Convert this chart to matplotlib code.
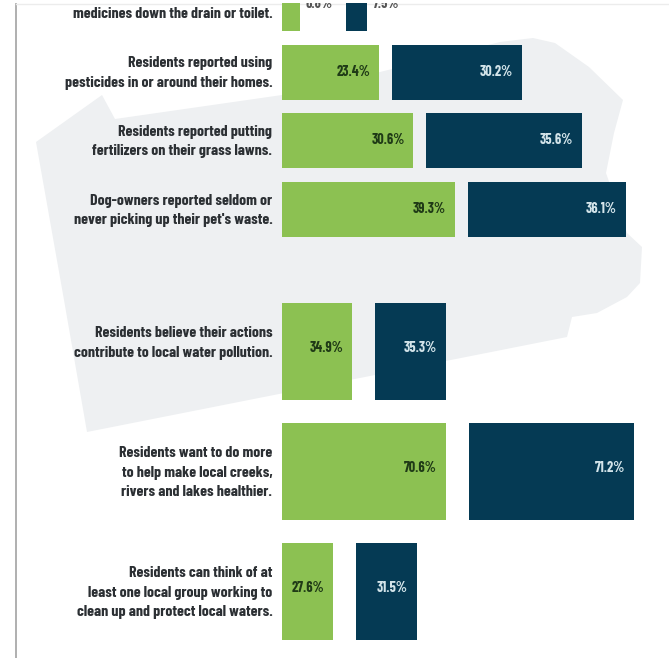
import numpy as np
import matplotlib
matplotlib.use("Agg")
import matplotlib.pyplot as plt
from matplotlib import font_manager as fm
from matplotlib.transforms import ScaledTranslation

W, H = 669, 658

# survey values, as printed on the bars
behaviour_labels = [
    "\nmedicines down the drain or toilet.",
    "Residents reported using\npesticides in or around their homes.",
    "Residents reported putting\nfertilizers on their grass lawns.",
    "Dog-owners reported seldom or\nnever picking up their pet's waste.",
]
behaviour_green = [6.8, 23.4, 30.6, 39.3]
behaviour_navy = [7.5, 30.2, 35.6, 36.1]

attitude_labels = [
    "Residents believe their actions\ncontribute to local water pollution.\n",
    "Residents want to do more\nto help make local creeks,\nrivers and lakes healthier.",
    "Residents can think of at\nleast one local group working to\nclean up and protect local waters.",
]
attitude_green = [34.9, 70.6, 27.6]
attitude_navy = [35.3, 71.2, 31.5]

GREEN = "#8cc152"
NAVY = "#053a54"
GREEN_TEXT = "#1f3a16"
NAVY_TEXT = "#d3e4ea"
LABEL_COLOR = "#2b2f33"

# the original uses a condensed gothic, fall back to a small plain sans if there is none
installed = {f.name for f in fm.fontManager.ttflist}
if "Barlow Condensed" in installed:
    family, label_size, value_size, spacing = "Barlow Condensed", 11.4, 10.3, 1.47
else:
    family, label_size, value_size, spacing = "Liberation Sans", 8.7, 8, 1.9
plt.rcParams["font.family"] = [family, "DejaVu Sans"]
plt.rcParams["font.weight"] = "bold"

fig = plt.figure(figsize=(W / 100, H / 100), dpi=100, facecolor="white")

# background: state outline and the frame of the screenshot, in pixel space
bg = fig.add_axes([0, 0, 1, 1])
bg.set_xlim(0, W)
bg.set_ylim(H, 0)
bg.axis("off")
outline_x = [36, 102, 115, 282, 380, 500, 533, 555, 589, 623, 614, 606, 627, 642, 640, 627, 597, 572, 567, 87, 64]
outline_y = [142, 95, 119, 95, 72, 42, 38, 43, 67, 100, 133, 173, 233, 247, 283, 297, 313, 317, 337, 432, 300]
bg.fill(outline_x, outline_y, color="#eef0f2", lw=0)
bg.plot([15.5, 15.5], [4, H], color="#a9a9a9", lw=1.3)
bg.plot([15.5, W], [4, 4], color="#ececec", lw=1)


def panel(top, bottom, start, px_per_unit, row0, row_step, bar_px, gaps_px, labels, green, navy, text_dy):
    # x axis starts at `start`, the bars in the original do not start at zero
    left = 282
    ax = fig.add_axes([left / W, 1 - bottom / H, (W - left) / W, (bottom - top) / H])
    ax.patch.set_alpha(0)
    ax.set_xlim(start, start + (W - left) / px_per_unit)
    ax.set_ylim((bottom - row0) / row_step, (top - row0) / row_step)
    rows = np.arange(len(labels))
    green = np.array(green)
    navy = np.array(navy)
    navy_left = green + np.array(gaps_px) / px_per_unit

    ax.barh(rows, green - start, left=start, height=bar_px / row_step, color=GREEN)
    ax.barh(rows, navy - start, left=navy_left, height=bar_px / row_step, color=NAVY)

    for r, g, n, nl in zip(rows, green, navy, navy_left):
        small = g - start < 30 / px_per_unit
        g_off, g_ha, g_col = (6, "left", "#555555") if small else (-9, "right", GREEN_TEXT)
        n_off, n_ha, n_col = (6, "left", "#555555") if small else (-9, "right", NAVY_TEXT)
        ax.annotate(f"{g}%", (g, r), xytext=(g_off * 0.72, text_dy * 0.72), textcoords="offset points",
                    ha=g_ha, va="center", fontsize=value_size, color=g_col, clip_on=True)
        ax.annotate(f"{n}%", (nl + n - start, r), xytext=(n_off * 0.72, text_dy * 0.72), textcoords="offset points",
                    ha=n_ha, va="center", fontsize=value_size, color=n_col, clip_on=True)

    ax.set_yticks(rows)
    ax.set_yticklabels(labels, fontsize=label_size, color=LABEL_COLOR, ha="right", linespacing=spacing)
    ax.tick_params(axis="y", length=0, pad=7)
    # the labels sit a little above the middle of the bars
    lift = ScaledTranslation(0, 3 / 100, fig.dpi_scale_trans)
    for lbl in ax.get_yticklabels():
        lbl.set_transform(lbl.get_transform() + lift)
    ax.set_xticks([])
    for s in ax.spines.values():
        s.set_visible(False)
    return ax


panel(3.4, 270, 3.1, 4.78, 3.5, 68.5, 55, [46, 13, 13, 13],
      behaviour_labels, behaviour_green, behaviour_navy, 0)
panel(285, 658, 8.3, 2.63, 351.5, 120, 97.5, [23, 23, 23],
      attitude_labels, attitude_green, attitude_navy, 4)

fig.savefig("out.png", dpi=100)
